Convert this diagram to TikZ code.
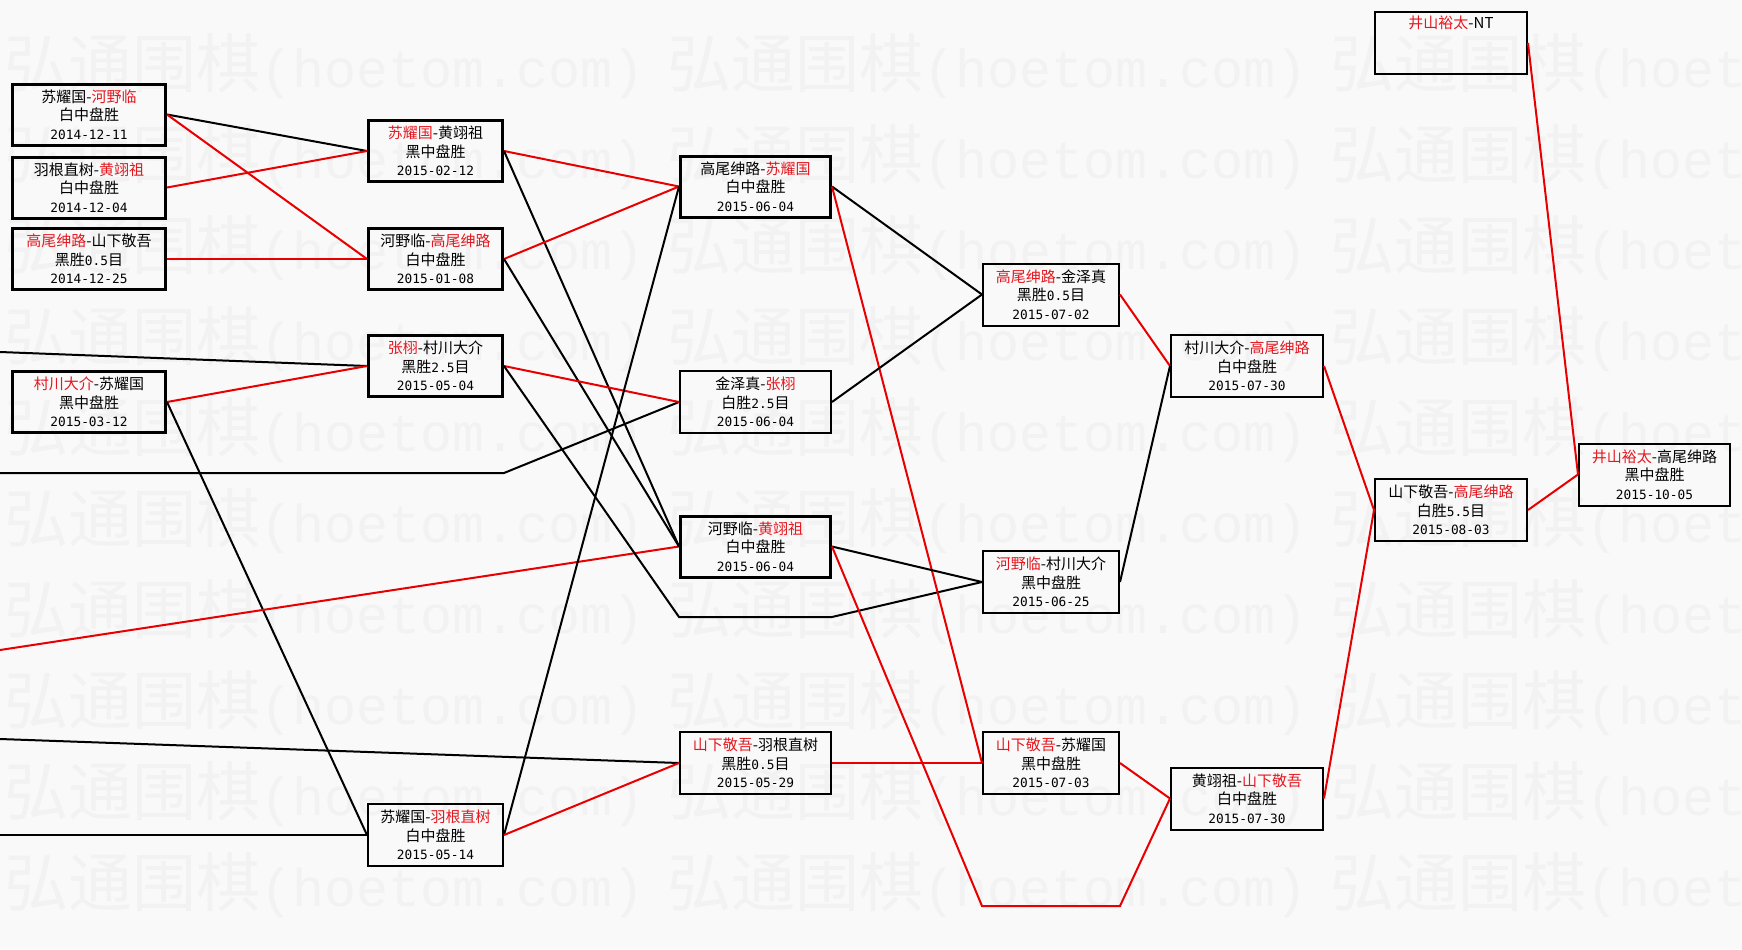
\documentclass[tikz,border=0pt]{standalone}
\usepackage{fontspec}
\setmainfont{Noto Sans CJK SC}
\newfontfamily\monof{DejaVu Sans Mono}
\newfontfamily\wmmono{Liberation Mono}
\newfontfamily\wmcjk{Noto Sans CJK SC}
\definecolor{bgc}{RGB}{249,249,249}
\definecolor{wmc}{RGB}{242,242,242}
\definecolor{lred}{RGB}{232,0,0}
\definecolor{tred}{RGB}{228,24,32}
\newcommand{\R}[1]{\textcolor{tred}{#1}}
\newcommand{\D}[1]{{\monof\fontsize{6.4}{9.25}\selectfont #1}}
\newcommand{\wmrow}[1]{%
  \foreach \j in {0,1,2}{%
    \node[wmark] at ({4+663*\j},#1) {{\wmcjk\fontsize{32}{32}\selectfont 弘通围棋}{\wmmono\fontsize{26.7}{32}\selectfont (hoetom.com)}};%
  }}
\begin{document}
\begin{tikzpicture}[x=0.5pt,y=-0.5pt,
  wmark/.style={anchor=west,inner sep=0pt,text=wmc},
  gbox/.style={draw=black,line width=1pt,minimum height=31pt,inner sep=0pt,align=center,
    font=\fontsize{7.5}{9.25}\selectfont},
  tbox/.style={gbox,line width=1.5pt,minimum height=30.5pt},
  con/.style={line width=1pt,black},
  rcon/.style={line width=1pt,lred}]
\fill[bgc] (0,0) rectangle (1742,949);
\useasboundingbox (0,0) rectangle (1742,949);
% watermark
\foreach \k in {0,...,9}{\wmrow{66+91*\k}}
% free ends and bends
\coordinate (L1) at (0,352);
\coordinate (L2) at (0,473);
\coordinate (H2) at (504,473);
\coordinate (L3) at (0,650);
\coordinate (L4) at (0,739);
\coordinate (L5) at (0,835);
\coordinate (P1) at (679,617);
\coordinate (P2) at (832,617);
\coordinate (Q1) at (982,906);
\coordinate (Q2) at (1120,906);
% column 1
\node[tbox,minimum width=76.5pt] (a1) at (89,114.5) {苏耀国-\R{河野临}\\白中盘胜\\\D{2014-12-11}};
\node[tbox,minimum width=76.5pt] (a2) at (89,187.5) {羽根直树-\R{黄翊祖}\\白中盘胜\\\D{2014-12-04}};
\node[tbox,minimum width=76.5pt] (a3) at (89,259) {\R{高尾绅路}-山下敬吾\\黑胜\D{0.5}目\\\D{2014-12-25}};
\node[tbox,minimum width=76.5pt] (a4) at (89,402) {\R{村川大介}-苏耀国\\黑中盘胜\\\D{2015-03-12}};
% column 2
\node[tbox,minimum width=67pt] (b1) at (435.5,151) {\R{苏耀国}-黄翊祖\\黑中盘胜\\\D{2015-02-12}};
\node[tbox,minimum width=67pt] (b2) at (435.5,259) {河野临-\R{高尾绅路}\\白中盘胜\\\D{2015-01-08}};
\node[tbox,minimum width=67pt] (b3) at (435.5,366) {\R{张栩}-村川大介\\黑胜\D{2.5}目\\\D{2015-05-04}};
\node[gbox,minimum width=67.5pt] (b4) at (435.5,835) {苏耀国-\R{羽根直树}\\白中盘胜\\\D{2015-05-14}};
% column 3
\node[tbox,minimum width=75pt] (c1) at (755.5,186.5) {高尾绅路-\R{苏耀国}\\白中盘胜\\\D{2015-06-04}};
\node[gbox,minimum width=75.5pt] (c2) at (755.5,402) {金泽真-\R{张栩}\\白胜\D{2.5}目\\\D{2015-06-04}};
\node[tbox,minimum width=75pt] (c3) at (755.5,546.5) {河野临-\R{黄翊祖}\\白中盘胜\\\D{2015-06-04}};
\node[gbox,minimum width=75.5pt] (c4) at (755.5,763) {\R{山下敬吾}-羽根直树\\黑胜\D{0.5}目\\\D{2015-05-29}};
% column 4
\node[gbox,minimum width=68pt] (d1) at (1051,294.5) {\R{高尾绅路}-金泽真\\黑胜\D{0.5}目\\\D{2015-07-02}};
\node[gbox,minimum width=68pt] (d2) at (1051,582) {\R{河野临}-村川大介\\黑中盘胜\\\D{2015-06-25}};
\node[gbox,minimum width=68pt] (d3) at (1051,763) {\R{山下敬吾}-苏耀国\\黑中盘胜\\\D{2015-07-03}};
% column 5
\node[gbox,minimum width=76pt] (e1) at (1247,366) {村川大介-\R{高尾绅路}\\白中盘胜\\\D{2015-07-30}};
\node[gbox,minimum width=76pt] (e2) at (1247,798.5) {黄翊祖-\R{山下敬吾}\\白中盘胜\\\D{2015-07-30}};
% column 6
\node[gbox,minimum width=76pt] (f0) at (1451,43) {\R{井山裕太}-NT\\\strut\\\strut};
\node[gbox,minimum width=76pt] (f1) at (1451,510) {山下敬吾-\R{高尾绅路}\\白胜\D{5.5}目\\\D{2015-08-03}};
% column 7
\node[gbox,minimum width=75.5pt] (g1) at (1654.5,474.5) {\R{井山裕太}-高尾绅路\\黑中盘胜\\\D{2015-10-05}};
% connectors column 1 -> 2
\draw[con] (a1.east) -- (b1.west);
\draw[rcon] (a1.east) -- (b2.west);
\draw[rcon] (a2.east) -- (b1.west);
\draw[rcon] (a3.east) -- (b2.west);
\draw[con] (L1) -- (b3.west);
\draw[rcon] (a4.east) -- (b3.west);
\draw[con] (a4.east) -- (b4.west);
\draw[con] (L5) -- (b4.west);
% into column 3
\draw[con] (L2) -- (H2) -- (c2.west);
\draw[rcon] (L3) -- (c3.west);
\draw[con] (L4) -- (c4.west);
\draw[rcon] (b1.east) -- (c1.west);
\draw[con] (b1.east) -- (c3.west);
\draw[rcon] (b2.east) -- (c1.west);
\draw[con] (b2.east) -- (c3.west);
\draw[rcon] (b3.east) -- (c2.west);
\draw[con] (b3.east) -- (P1) -- (P2) -- (d2.west);
\draw[con] (b4.east) -- (c1.west);
\draw[rcon] (b4.east) -- (c4.west);
% column 3 -> 4
\draw[con] (c1.east) -- (d1.west);
\draw[rcon] (c1.east) -- (d3.west);
\draw[con] (c2.east) -- (d1.west);
\draw[con] (c3.east) -- (d2.west);
\draw[rcon] (c3.east) -- (Q1) -- (Q2) -- (e2.west);
\draw[rcon] (c4.east) -- (d3.west);
% column 4 -> 5
\draw[rcon] (d1.east) -- (e1.west);
\draw[con] (d2.east) -- (e1.west);
\draw[rcon] (d3.east) -- (e2.west);
% column 5 -> 6 -> 7
\draw[rcon] (e1.east) -- (f1.west);
\draw[rcon] (e2.east) -- (f1.west);
\draw[rcon] (f0.east) -- (g1.west);
\draw[rcon] (f1.east) -- (g1.west);
\end{tikzpicture}
\end{document}
